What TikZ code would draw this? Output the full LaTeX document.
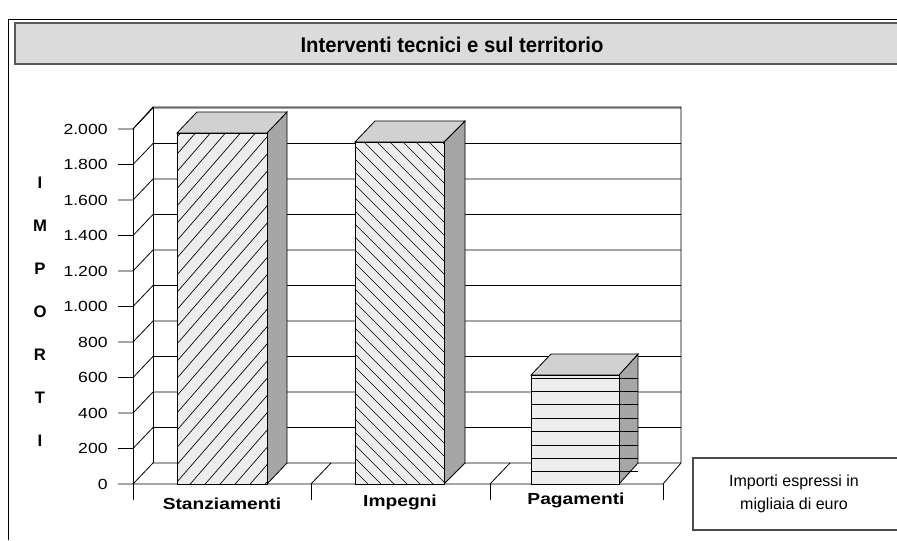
\documentclass[tikz,border=0pt]{standalone}
\usepackage{fontspec}
\setmainfont{Liberation Sans}
\newfontfamily\chartfont[FakeStretch=1.2]{Liberation Sans}
\newfontfamily\titlefont[FakeStretch=0.95]{Liberation Sans}
\usepackage{tikz}

\begin{document}
\begin{tikzpicture}[x=0.75pt, y=-0.75pt, line width=0.6pt,
		front/.style={draw, fill=black!7},
		sideface/.style={draw, fill=black!35},
		topface/.style={draw, fill=black!18},
		hatch/.style={line width=0.5pt},
		ticklabel/.style={anchor=east, inner sep=0pt, font=\chartfont\fontsize{11}{13}\selectfont},
		catlabel/.style={inner sep=0pt, font=\chartfont\bfseries\fontsize{12}{14}\selectfont},
		axisletter/.style={inner sep=0pt, font=\bfseries\fontsize{12.5}{14}\selectfont}]
		%%Location
		\useasboundingbox (0,0) rectangle (897,540);
		%%Frame
		\draw (8,540) -- (8,19) -- (897,19);
		\draw[fill=black!14, draw=black!65, line width=1.4pt] (15,23) rectangle (905,64);
		\node[font=\titlefont\bfseries\fontsize{16}{19}\selectfont] (title) at (452,45) {Interventi tecnici e sul territorio};
		
		%%Walls
		\draw (133,129) -- (133,500);
		\draw (133,484) -- (663,484) -- (681,463) -- (681,107) -- (153,107) -- (133,129);
		\draw (153,107) -- (153,463);
		%%Grid
		\foreach \k/\lab in {0/0,1/200,2/400,3/600,4/800,5/1.000,6/1.200,7/1.400,8/1.600,9/1.800,10/2.000}{
			\pgfmathsetmacro{\yy}{484-35.5*\k}
			\draw (118,\yy) -- (133,\yy) -- (153,\yy-21) -- (681,\yy-21);
			\node[ticklabel] (tick\k) at (108,\yy) {\lab};
		}
		%%Floor
		\foreach \x in {311,490,663}
			\draw (\x,500) -- (\x,484);
		\foreach \x in {311,490}
			\draw (\x,484) -- (\x+20,463);
		
		%%Stanziamenti
		\draw[sideface] (267,133) -- (287,112) -- (287,463) -- (267,484) -- cycle;
		\draw[topface] (177,133) -- (197,112) -- (287,112) -- (267,133) -- cycle;
		\draw[front] (177,133) rectangle (267,484);
		\begin{scope}
			\clip (177,133) rectangle (267,484);
			\foreach \x in {-130,-115,...,270}
				\draw[hatch] (\x,490) -- ++(320,-368);
		\end{scope}
		\draw (177,133) rectangle (267,484);
		
		%%Impegni
		\draw[sideface] (444,142) -- (465,121) -- (465,463) -- (444,484) -- cycle;
		\draw[topface] (355,142) -- (375,121) -- (465,121) -- (444,142) -- cycle;
		\draw[front] (355,142) rectangle (444,484);
		\begin{scope}
			\clip (355,142) rectangle (444,484);
			\foreach \x in {0,13,...,450}
				\draw[hatch] (\x,142) -- ++(360,360);
		\end{scope}
		\draw (355,142) rectangle (444,484);
		
		%%Pagamenti
		\draw[sideface] (619,375) -- (638,354) -- (638,463) -- (619,484) -- cycle;
		\draw[topface] (531,375) -- (551,354) -- (638,354) -- (619,375) -- cycle;
		\draw[front] (531,375) rectangle (619,484);
		\foreach \y in {378,391.4,...,475}
			\draw[hatch] (531,\y) -- (638,\y);
		\draw (531,375) rectangle (619,484);
		
		%%Label
		\foreach \i/\c/\y in {1/I/183,2/M/226,3/P/269,4/O/312,5/R/355,6/T/398,7/I/441}
			\node[axisletter] (axis\i) at (40,\y) {\c};
		\node[catlabel] (stanz) at (222,504) {Stanziamenti};
		\node[catlabel] (impe) at (400,502) {Impegni};
		\node[catlabel] (paga) at (576,500) {Pagamenti};
		
		%%Legend
		\draw[draw=black!70, line width=1pt] (693,458) rectangle (905,530);
		\node[align=center, inner sep=0pt, font=\fontsize{12}{17}\selectfont] (note) at (794,494) {Importi espressi in\\migliaia di euro};
\end{tikzpicture}
\end{document}
